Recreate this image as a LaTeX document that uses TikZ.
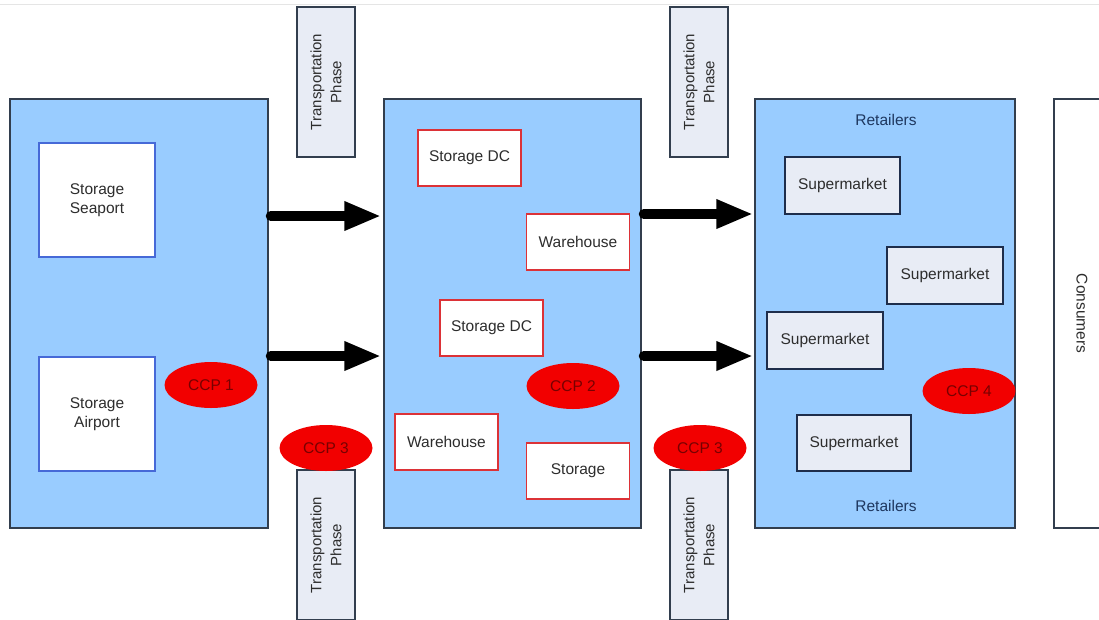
\documentclass[tikz,border=0pt]{standalone}
\usepackage{fontspec}
\setmainfont{Liberation Sans}
\usetikzlibrary{shapes.geometric,arrows.meta}
\definecolor{stageblue}{RGB}{153,204,255}
\definecolor{stageedge}{RGB}{50,62,78}
\definecolor{portedge}{RGB}{70,105,215}
\definecolor{depotedge}{RGB}{220,50,55}
\definecolor{shopfill}{RGB}{232,236,245}
\definecolor{shopedge}{RGB}{30,45,75}
\definecolor{ccpred}{RGB}{242,0,0}
\definecolor{ccptext}{RGB}{120,0,0}
\definecolor{labelgray}{RGB}{45,45,45}
\definecolor{retailnavy}{RGB}{30,55,95}
\newcommand{\labelsize}{\fontsize{15.5}{19}\selectfont}
\tikzstyle{stage}=[draw=stageedge, line width=1.5pt, fill=stageblue, minimum height=429pt, inner sep=0pt]
\tikzstyle{port}=[draw=portedge, line width=1.4pt, fill=white, minimum width=116pt, minimum height=114pt, align=center, text=labelgray, font=\labelsize]
\tikzstyle{depot}=[draw=depotedge, line width=1.4pt, fill=white, minimum width=103pt, minimum height=56pt, text=labelgray, font=\labelsize]
\tikzstyle{shop}=[draw=shopedge, line width=1.5pt, fill=shopfill, minimum width=115pt, minimum height=57pt, text=labelgray, font=\labelsize]
\tikzstyle{transit}=[draw=stageedge, line width=1.5pt, fill=shopfill, rotate=90, minimum width=150pt, minimum height=58pt, align=center, text=labelgray, font=\fontsize{15}{20}\selectfont]
\tikzstyle{ccp}=[ellipse, fill=ccpred, minimum width=93pt, minimum height=46pt, inner sep=0pt, text=ccptext, font=\labelsize]
\tikzstyle{flow}=[line width=10pt, line cap=round, -{Triangle[length=37pt,width=27pt]}]

\begin{document}
\begin{tikzpicture}[x=1pt, y=1pt]
\useasboundingbox (0, 0) rectangle (1099, -619);
\draw[gray!20, line width=1pt] (0, -4) -- (1099, -4);
\node[stage, minimum width=258pt] at (139, -313.5) (supply) {};
\node[stage, minimum width=257pt] at (512.5, -313.5) (distrib) {};
\node[stage, minimum width=260pt] at (885, -313.5) (retail) {};
\node[draw=stageedge, line width=1.5pt, fill=white, rotate=-90, minimum width=429pt, minimum height=56pt, text=labelgray, font=\labelsize] at (1082, -313.5) (consumers) {Consumers};

\node[port] at (97, -200) (seaport) {Storage\\Seaport};
\node[port] at (97, -414) (airport) {Storage\\Airport};

\node[depot] at (469.5, -158) (dc1) {Storage DC};
\node[depot] at (578, -242) (wh1) {Warehouse};
\node[depot] at (491.5, -328) (dc2) {Storage DC};
\node[depot] at (446.5, -442) (wh2) {Warehouse};
\node[depot] at (578, -471) (store) {Storage};

\node[text=retailnavy, font=\labelsize] at (886, -120) (rtop) {Retailers};
\node[text=retailnavy, font=\labelsize] at (886, -506) (rbot) {Retailers};
\node[shop] at (842.5, -185.5) (sm1) {Supermarket};
\node[shop, minimum width=116pt] at (945, -275.5) (sm2) {Supermarket};
\node[shop, minimum width=116pt] at (825, -340.5) (sm3) {Supermarket};
\node[shop, minimum width=114pt, minimum height=56pt] at (854, -443) (sm4) {Supermarket};

\node[transit] at (326, -82) (tpa) {Transportation\\Phase};
\node[transit] at (699, -82) (tpb) {Transportation\\Phase};
\node[transit] at (326, -545) (tpc) {Transportation\\Phase};
\node[transit] at (699, -545) (tpd) {Transportation\\Phase};

\node[ccp] at (211, -385) (ccp1) {CCP 1};
\node[ccp] at (573, -386) (ccp2) {CCP 2};
\node[ccp] at (326, -448) (ccp3a) {CCP 3};
\node[ccp] at (700, -448) (ccp3b) {CCP 3};
\node[ccp] at (969, -391) (ccp4) {CCP 4};

\draw[flow] ([xshift=2pt, yshift=97.5pt]supply.east) -- ([xshift=-2pt, yshift=97.5pt]distrib.west);
\draw[flow] ([xshift=2pt, yshift=-42.5pt]supply.east) -- ([xshift=-2pt, yshift=-42.5pt]distrib.west);
\draw[flow] ([xshift=2pt, yshift=99.5pt]distrib.east) -- ([xshift=-1pt, yshift=99.5pt]retail.west);
\draw[flow] ([xshift=2pt, yshift=-42.5pt]distrib.east) -- ([xshift=-1pt, yshift=-42.5pt]retail.west);
\end{tikzpicture}
\end{document}
